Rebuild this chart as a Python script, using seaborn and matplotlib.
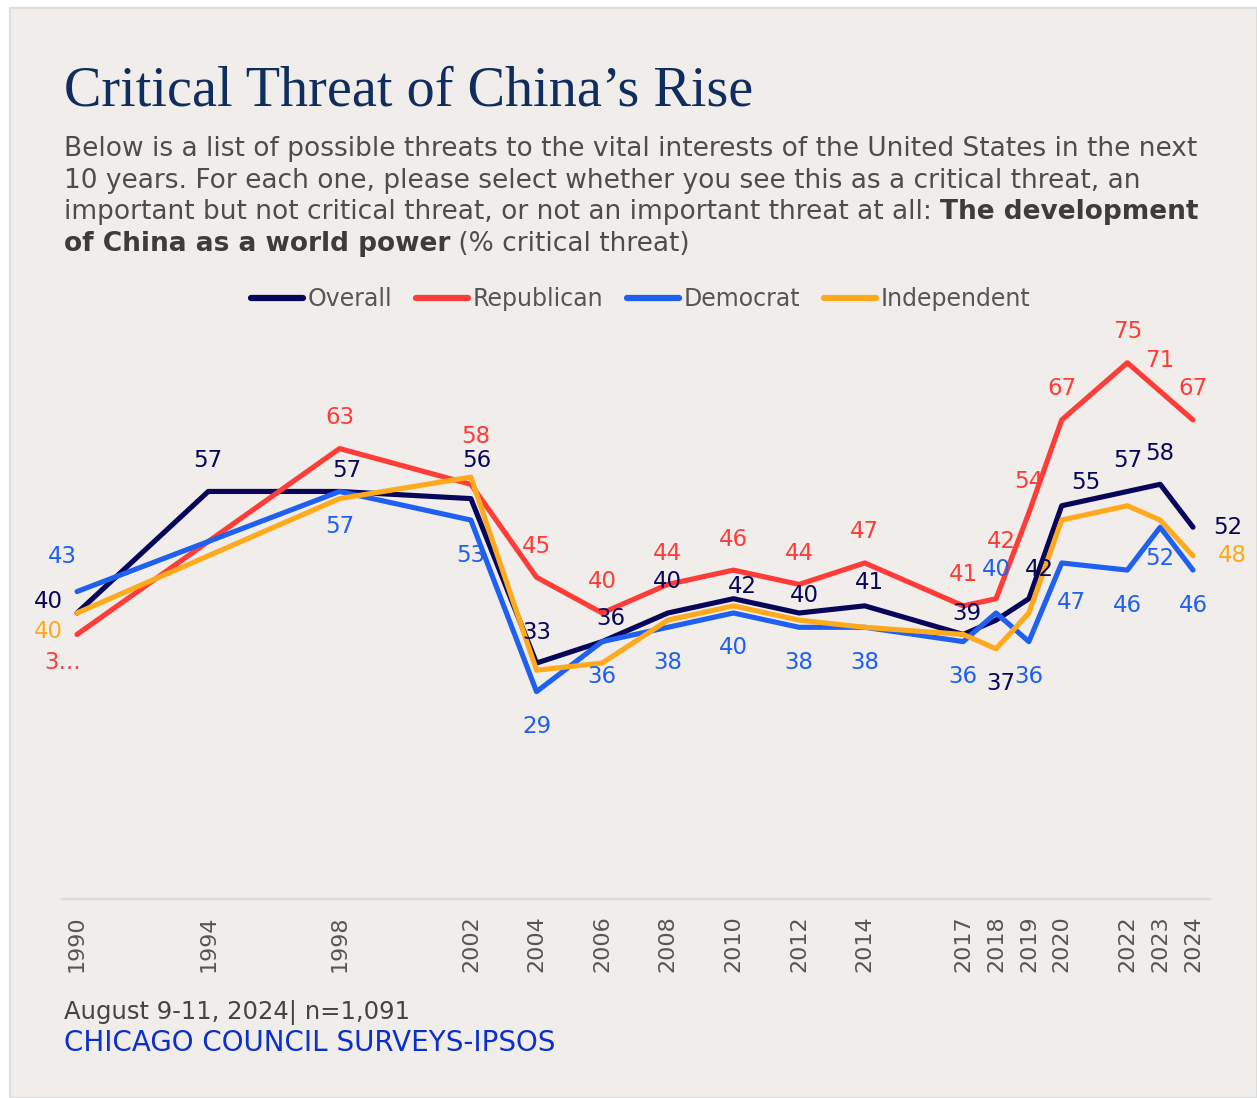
import numpy as np
import pandas as pd
import matplotlib
matplotlib.use("Agg")
import matplotlib.pyplot as plt
import seaborn as sns
from matplotlib.patches import Rectangle

# values (% critical threat)
years = [1990, 1994, 1998, 2002, 2004, 2006, 2008, 2010, 2012, 2014,
         2017, 2018, 2019, 2020, 2022, 2023, 2024]
overall = [40, 57, 57, 56, 33, 36, 40, 42, 40, 41, 37, 39, 42, 55, 57, 58, 52]
republican = [37, np.nan, 63, 58, 45, 40, 44, 46, 44, 47, 41, 42, 54, 67, 75, 71, 67]
democrat = [43, np.nan, 57, 53, 29, 36, 38, 40, 38, 38, 36, 40, 36, 47, 46, 52, 46]
independent = [40, np.nan, 56, 59, 32, 33, 39, 41, 39, 38, 37, 35, 40, 53, 55, 53, 48]
series_names = ["Overall", "Republican", "Democrat", "Independent"]

colors = {"Overall": "#07065A", "Republican": "#FF3C38",
          "Democrat": "#1F5FF2", "Independent": "#FFAA1C"}

W, H = 1257, 1098

df = pd.DataFrame({"year": years, "Overall": overall, "Republican": republican,
                   "Democrat": democrat, "Independent": independent})
long_df = df.melt(id_vars="year", var_name="group", value_name="pct").dropna()

sns.set_style("white")
plt.rcParams["font.family"] = ["DejaVu Sans"]
plt.rcParams["lines.solid_capstyle"] = "round"

fig = plt.figure(figsize=(W / 100, H / 100), dpi=100)
fig.patch.set_facecolor("white")
# card background with thin border
fig.patches.append(Rectangle((10 / W, 0), 1 - 10 / W, 1 - 8 / H, transform=fig.transFigure,
                             facecolor="#F0EDEA", edgecolor="#DCDCDC", linewidth=1.5, zorder=-5))

ax = fig.add_axes([62 / W, (H - 899) / H, (1210 - 62) / W, 572 / H])
ax.set_facecolor("none")
ax.set_zorder(2)

sns.lineplot(data=long_df, x="year", y="pct", hue="group", hue_order=series_names,
             palette=colors, linewidth=3.7, ax=ax, sort=True)

ax.set_xlim(1989.543, 2024.518)
ax.set_ylim(0, 80)
ax.set_xlabel("")
ax.set_ylabel("")
ax.set_yticks([])
ax.set_xticks(years)
ax.set_xticklabels([str(y) for y in years], rotation=90, fontsize=16, color="#555555")
ax.tick_params(axis="x", length=0, pad=12)
for s in ["top", "right", "left"]:
    ax.spines[s].set_visible(False)
ax.spines["bottom"].set_color("#DADADA")
ax.spines["bottom"].set_linewidth(1.6)

# data labels: default pixel offsets (dx, dy downward) per series, with a few moved ones
default_off = {"Overall": (0, -31), "Republican": (0, -31), "Democrat": (0, 35), "Independent": (0, 0)}
label_off = {
    ("Overall", 1990): (-29, -12), ("Overall", 1998): (7, -21), ("Overall", 2002): (6, -38),
    ("Overall", 2006): (9, -23), ("Overall", 2010): (9, -12), ("Overall", 2012): (5, -17),
    ("Overall", 2014): (5, -23), ("Overall", 2017): (38, 49), ("Overall", 2018): (-29, -7),
    ("Overall", 2019): (10, -29), ("Overall", 2020): (24, -23), ("Overall", 2024): (35, 0),
    ("Republican", 1990): (-14, 28), ("Republican", 2002): (5, -48), ("Republican", 2018): (5, -57),
    ("Democrat", 1990): (-15, -35), ("Democrat", 2018): (0, -43), ("Democrat", 2020): (10, 40),
    ("Democrat", 2023): (0, 31),
    ("Independent", 1990): (-29, 19), ("Independent", 2024): (39, 0),
}
label_text = {("Republican", 1990): "3..."}
independent_shown = [1990, 2024]

for name in series_names:
    for yr, v in zip(df["year"], df[name]):
        if np.isnan(v):
            continue
        if name == "Independent" and yr not in independent_shown:
            continue
        dx, dy = label_off.get((name, yr), default_off[name])
        txt = label_text.get((name, yr), f"{v:.0f}")
        ax.annotate(txt, (yr, v), xytext=(dx, -dy), textcoords="offset pixels",
                    ha="center", va="center", fontsize=16.5, color=colors[name],
                    annotation_clip=False)

# legend
handles, labels = ax.get_legend_handles_labels()
ax.get_legend().remove()
leg = fig.legend(handles, labels, loc="center", ncol=4, frameon=False,
                 bbox_to_anchor=(641 / W, 1 - 299 / H), fontsize=17,
                 handlelength=2.2, handletextpad=0.2, columnspacing=1.0)
for line in leg.get_lines():
    line.set_linewidth(4.5)
for t in leg.get_texts():
    t.set_color("#555555")

# title and subtitle
fig.text(64 / W, 1 - 105 / H, "Critical Threat of China\u2019s Rise",
         family="Liberation Serif", fontsize=40.5, color="#0F2D5E", va="baseline", ha="left")

renderer = fig.canvas.get_renderer()


def run_width(s, size, weight):
    a = fig.text(0, 0, s + "|", fontsize=size, fontweight=weight)
    b = fig.text(0, 0, "|", fontsize=size, fontweight=weight)
    w = a.get_window_extent(renderer).width - b.get_window_extent(renderer).width
    a.remove()
    b.remove()
    return w


def draw_runs(x_px, y_px, runs, size=19):
    x = x_px
    for s, weight in runs:
        col = "#3C3C3C" if weight == "bold" else "#4D4D4D"
        fig.text(x / W, 1 - y_px / H, s, fontsize=size, fontweight=weight,
                 color=col, va="baseline", ha="left")
        x += run_width(s, size, weight)


sub_lines = [
    [("Below is a list of possible threats to the vital interests of the United States in the next", "normal")],
    [("10 years. For each one, please select whether you see this as a critical threat, an", "normal")],
    [("important but not critical threat, or not an important threat at all: ", "normal"),
     ("The development", "bold")],
    [("of China as a world power", "bold"), (" (% critical threat)", "normal")],
]
for i, runs in enumerate(sub_lines):
    draw_runs(64, 156 + i * 31.7, runs)

# footer
fig.text(64 / W, 1 - 1019 / H, "August 9-11, 2024| n=1,091", fontsize=17.5,
         color="#444444", va="baseline", ha="left")
fig.text(64 / W, 1 - 1051 / H, "CHICAGO COUNCIL SURVEYS-IPSOS", fontsize=20,
         color="#0B2FCC", va="baseline", ha="left")

fig.savefig("out.png", dpi=100, facecolor=fig.get_facecolor())
